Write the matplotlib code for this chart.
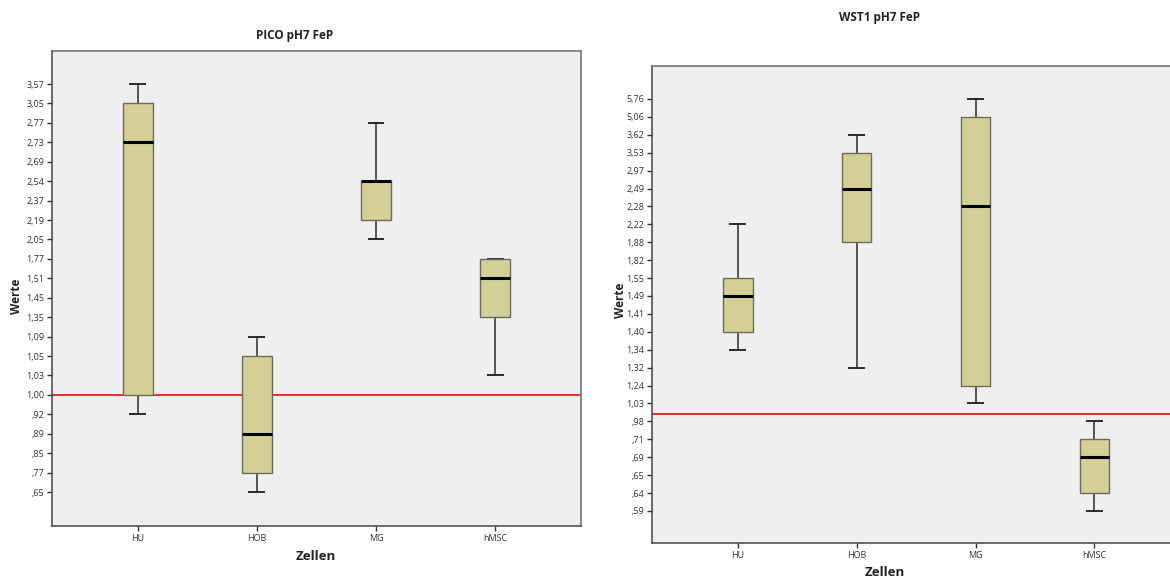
import matplotlib
matplotlib.use("Agg")
import matplotlib.pyplot as plt
import numpy as np

plt.rcParams['font.family'] = ['Open Sans', 'DejaVu Sans']

zellen = ["HU", "HOB", "MG", "hMSC"]

# PICO pH7 FeP - SPSS zeigt die Werte als geordnete Kategorien
pico_ticks = [0.65, 0.77, 0.85, 0.89, 0.92, 1.00, 1.03, 1.05, 1.09, 1.35, 1.45,
              1.51, 1.77, 2.05, 2.19, 2.37, 2.54, 2.69, 2.73, 2.77, 3.05, 3.57]
pico_whislo = [0.92, 0.65, 2.05, 1.03]
pico_q1 = [1.00, 0.77, 2.19, 1.35]
pico_med = [2.73, 0.89, 2.54, 1.51]
pico_q3 = [3.05, 1.05, 2.54, 1.77]
pico_whishi = [3.57, 1.09, 2.77, 1.77]

# WST1 pH7 FeP
wst_ticks = [0.59, 0.64, 0.65, 0.69, 0.71, 0.98, 1.03, 1.24, 1.32, 1.34, 1.40, 1.41,
             1.49, 1.55, 1.82, 1.88, 2.22, 2.28, 2.49, 2.97, 3.53, 3.62, 5.06, 5.76]
wst_whislo = [1.34, 1.32, 1.03, 0.59]
wst_q1 = [1.40, 1.88, 1.24, 0.64]
wst_med = [1.49, 2.49, 2.28, 0.69]
wst_q3 = [1.55, 3.53, 5.06, 0.71]
wst_whishi = [2.22, 3.62, 5.76, 0.98]

referenz = 1.00

BG = "#efefef"
BOX = "#d3cf97"
RED = "#e0322b"


def fmt(v):
    s = f"{v:.2f}".replace(".", ",")
    if s.startswith("0"):
        s = s[1:]
    return s


def pos(ticks, v):
    # Position auf der ordinalen Achse
    return float(np.interp(v, ticks, np.arange(len(ticks))))


def draw(ax, ticks, lo, q1, med, q3, hi, ylim):
    stats = []
    for i in range(len(zellen)):
        stats.append({
            "whislo": pos(ticks, lo[i]), "q1": pos(ticks, q1[i]),
            "med": pos(ticks, med[i]), "q3": pos(ticks, q3[i]),
            "whishi": pos(ticks, hi[i]), "fliers": [],
        })
    ax.set_facecolor(BG)
    ax.axhline(pos(ticks, referenz), color=RED, lw=1.4, zorder=1)
    ax.bxp(stats, positions=np.arange(1, len(zellen) + 1), widths=0.25,
           patch_artist=True, showfliers=False,
           boxprops=dict(facecolor=BOX, edgecolor="#6b6b5a", lw=1.0, zorder=3),
           medianprops=dict(color="black", lw=2.2, zorder=4),
           whiskerprops=dict(color="#2a2a2a", lw=1.1, zorder=2),
           capprops=dict(color="#2a2a2a", lw=1.4, zorder=2))
    ax.set_xlim(0.28, 4.72)
    ax.set_ylim(*ylim)
    ax.set_yticks(np.arange(len(ticks)))
    ax.set_yticklabels([fmt(t) for t in ticks])
    ax.set_xticks(np.arange(1, len(zellen) + 1))
    ax.set_xticklabels(zellen)
    ax.tick_params(axis="both", labelsize=6.5, length=3.5, width=1.0,
                   colors="#333333", pad=2)
    for s in ax.spines.values():
        s.set_color("#6a6a6a")
        s.set_linewidth(1.1)
    ax.spines["left"].set_color("#444444")
    ax.spines["bottom"].set_color("#444444")


fig = plt.figure(figsize=(11.7, 5.79), dpi=100)

ax1 = fig.add_axes([0.0444, 0.0915, 0.4521, 0.8204])
draw(ax1, pico_ticks, pico_whislo, pico_q1, pico_med, pico_q3, pico_whishi, (-1.75, 22.7))
fig.text(295 / 1170, 1 - 35 / 579, "PICO pH7 FeP", ha="center", va="center",
         fontsize=8.5, fontweight="bold", color="#222222")
fig.text(316 / 1170, 1 - 557 / 579, "Zellen", ha="center", va="center",
         fontsize=9.5, fontweight="bold", color="#222222")
fig.text(16 / 1170, 1 - 296 / 579, "Werte", ha="center", va="center", rotation=90,
         fontsize=8.5, fontweight="bold", color="#222222")

ax2 = fig.add_axes([0.5573, 0.0622, 0.4513, 0.8238])
draw(ax2, wst_ticks, wst_whislo, wst_q1, wst_med, wst_q3, wst_whishi, (-1.79, 24.84))
fig.text(880 / 1170, 1 - 18 / 579, "WST1 pH7 FeP", ha="center", va="center",
         fontsize=8.5, fontweight="bold", color="#222222")
fig.text(885 / 1170, 1 - 572 / 579, "Zellen", ha="center", va="center",
         fontsize=9.5, fontweight="bold", color="#222222")
fig.text(620 / 1170, 1 - 300 / 579, "Werte", ha="center", va="center", rotation=90,
         fontsize=8.5, fontweight="bold", color="#222222")

fig.savefig("out.png", dpi=100, facecolor="white")
